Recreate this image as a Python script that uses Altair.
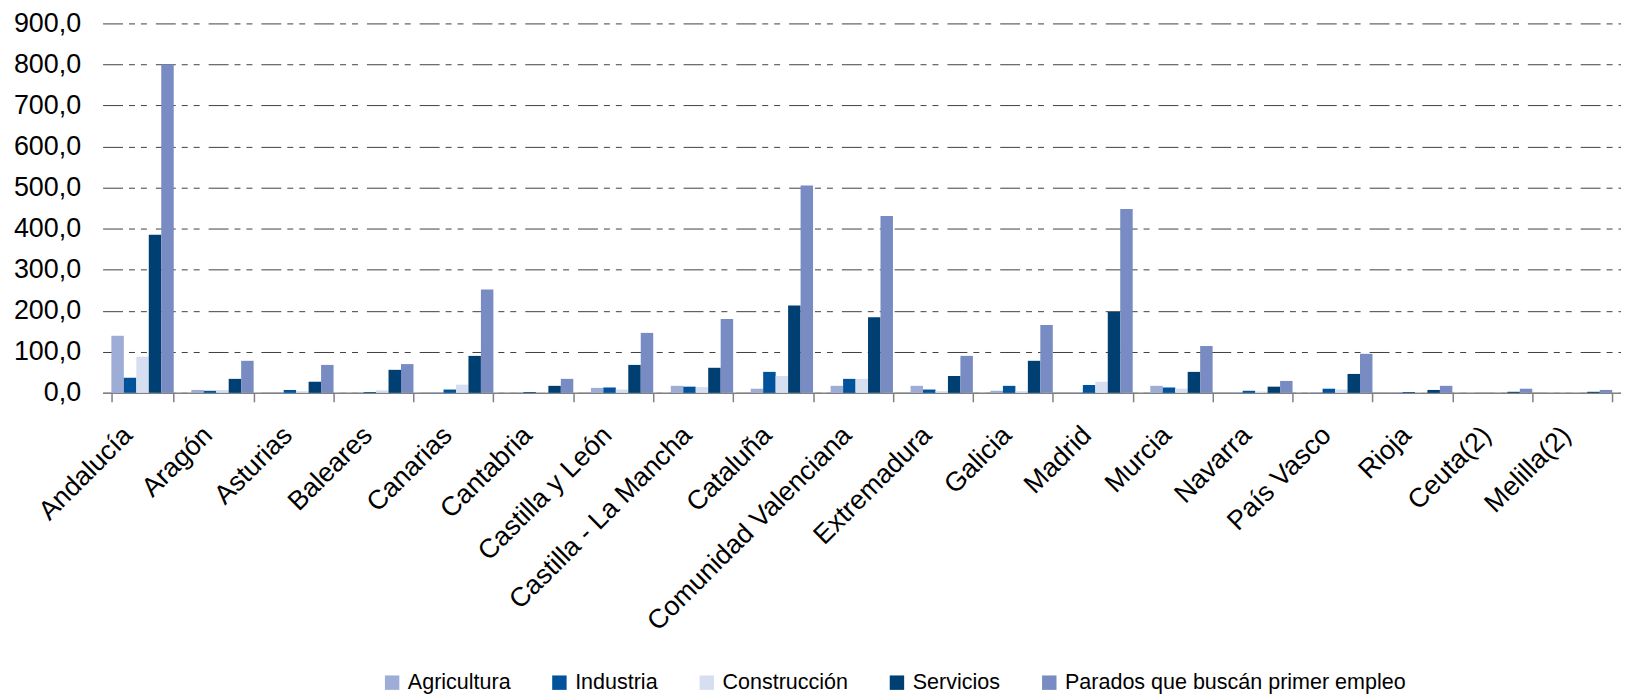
import altair as alt
import pandas as pd

regions = ["Andalucía", "Aragón", "Asturias", "Baleares", "Canarias", "Cantabria",
           "Castilla y León", "Castilla - La Mancha", "Cataluña", "Comunidad Valenciana",
           "Extremadura", "Galicia", "Madrid", "Murcia", "Navarra", "País Vasco",
           "Rioja", "Ceuta(2)", "Melilla(2)"]

sectors = ["Agricultura", "Industria", "Construcción", "Servicios",
           "Parados que buscán primer empleo"]

agricultura = [139, 7, 1, 1, 2, 1, 12, 17, 10, 17, 17, 5, 2, 17, 2, 2, 2, 0, 0]
industria = [37, 5, 7, 2, 8, 2, 13, 15, 51, 34, 8, 17, 19, 13, 5, 10, 2, 0, 0]
construccion = [88, 7, 4, 6, 20, 1, 8, 14, 41, 34, 4, 4, 27, 10, 3, 8, 1, 0, 0]
servicios = [385, 34, 27, 56, 90, 17, 68, 61, 213, 184, 41, 78, 197, 51, 15, 46, 7, 2.5, 2.5]
parados = [800, 78, 68, 70, 252, 34, 146, 180, 505, 431, 90, 165, 448, 114, 29, 95, 17, 10, 7]

colors = ["#9DADD6", "#00539B", "#D6DFF2", "#003F72", "#788BC3"]
y_ticks = [0, 100, 200, 300, 400, 500, 600, 700, 800, 900]

series = [agricultura, industria, construccion, servicios, parados]
rows = []
for s, vals in zip(sectors, series):
    for r, v in zip(regions, vals):
        rows.append({"region": r, "sector": s, "value": v})
df = pd.DataFrame(rows)

FONT = "Liberation Sans"

chart = alt.Chart(df).mark_bar().encode(
    x=alt.X("region:N", sort=regions,
            scale=alt.Scale(paddingInner=0.22, paddingOuter=0.11),
            axis=alt.Axis(title=None, labelAngle=-45, labelAlign="right",
                          labelBaseline="top", labelFontSize=27, labelFont=FONT,
                          labelColor="black", labelPadding=20, labelOffset=-24,
                          labelLimit=500, tickBand="extent", tickSize=9,
                          tickColor="#808080", domainColor="#808080",
                          domainWidth=1.5, tickWidth=1.5, grid=False)),
    xOffset=alt.XOffset("sector:N", sort=sectors,
                        scale=alt.Scale(paddingInner=0, paddingOuter=0)),
    y=alt.Y("value:Q", scale=alt.Scale(domain=[0, 900], nice=False),
            axis=alt.Axis(title=None, values=y_ticks, domain=False, ticks=False,
                          tickSize=0, labelPadding=22, labelFontSize=27,
                          labelFont=FONT, labelColor="black",
                          labelExpr="replace(format(datum.value, '.1f'), '.', ',')",
                          grid=True, gridColor="#404040", gridWidth=1,
                          gridDash=[20, 6, 6, 6, 6, 9])),
    color=alt.Color("sector:N", sort=sectors,
                    scale=alt.Scale(domain=sectors, range=colors),
                    legend=alt.Legend(title=None, orient="none", direction="horizontal",
                                      legendX=280, legendY=651, symbolType="square",
                                      symbolSize=210, symbolStrokeWidth=0,
                                      symbolOpacity=1, labelFontSize=21.6,
                                      labelFont=FONT, labelColor="black",
                                      labelOffset=5, columnPadding=38,
                                      labelLimit=600)),
).properties(
    width=1525, height=371,
    padding={"left": 5, "top": 0, "right": 0, "bottom": 0},
).configure_view(stroke=None)

chart.save("out.html", embed_options={"renderer": "svg", "actions": False})

with open("out.html", encoding="utf-8") as f:
    html = f.read()
html = html.replace("<head>", "<head><style>html,body{overflow:hidden;}</style>", 1)
with open("out.html", "w", encoding="utf-8") as f:
    f.write(html)
